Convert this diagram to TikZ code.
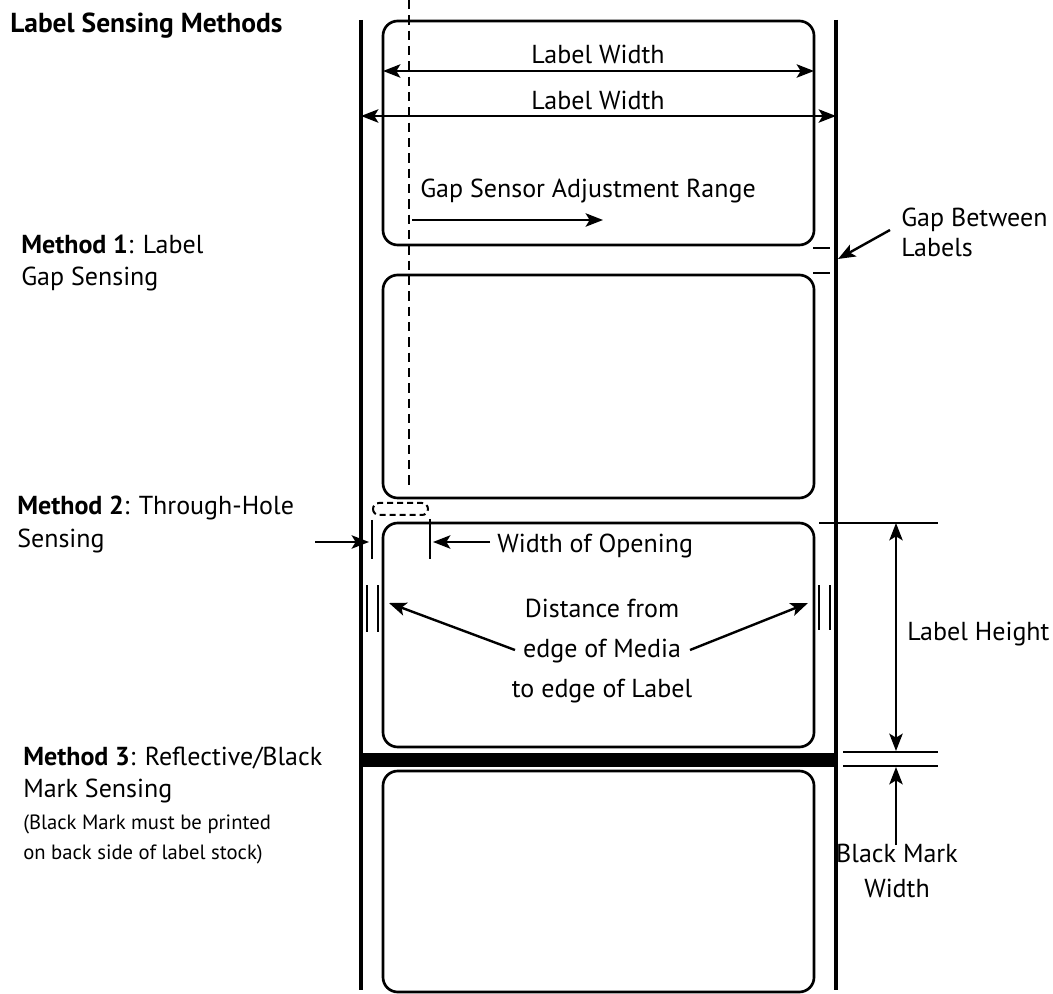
\documentclass[tikz,border=0pt]{standalone}
\usepackage{fontspec}
\setmainfont{PT Sans}
\usetikzlibrary{arrows.meta}
\tikzset{
  media/.style={line width=2.3pt},
  lbl/.style={line width=2pt, rounded corners=11pt},
  dimline/.style={line width=1.9pt},
  tip/.tip={Stealth[length=13pt,width=10pt,inset=3pt]},
  arr/.style={line width=1.8pt,-tip},
  darr/.style={line width=1.8pt,tip-tip},
  txt/.style={inner sep=0pt, font=\fontsize{19.5}{23}\selectfont, anchor=base west},
  ctxt/.style={txt, anchor=base},
  small/.style={inner sep=0pt, font=\fontsize{15.5}{19}\selectfont, anchor=base west},
}
\begin{document}
\begin{tikzpicture}[x=0.75pt,y=-0.75pt]
\useasboundingbox (0,0) rectangle (1053,994);
% media edges
\coordinate (mlt) at (361,20); \coordinate (mlb) at (361,990);
\coordinate (mrt) at (836,20); \coordinate (mrb) at (836,990);
\draw[media] (mlt) -- (mlb);
\draw[media] (mrt) -- (mrb);
% labels
\draw[lbl] (383,21) rectangle (814,245);
\draw[lbl] (383,275) rectangle (814,498);
\draw[lbl] (383,523) rectangle (814,747);
\draw[lbl] (383,771) rectangle (814,992);
% black mark
\fill (361,753) rectangle (836,767);
% dashed sensor line
\coordinate (ds1) at (409,0); \coordinate (ds2) at (409,488);
\draw[line width=1.9pt, dash pattern=on 7pt off 4.5pt] (ds1) -- (ds2);
% label width
\coordinate (lw1a) at (383,71); \coordinate (lw1b) at (814,71);
\coordinate (lw2a) at (361,116); \coordinate (lw2b) at (836,116);
\draw[darr] (lw1a) -- (lw1b);
\draw[darr] (lw2a) -- (lw2b);
\node[ctxt] (lwt1) at (598,64) {Label Width};
\node[ctxt] (lwt2) at (598,110) {Label Width};
% gap sensor adjustment range
\node[txt] (gsar) at (420,198) {Gap Sensor Adjustment Range};
\coordinate (gs1) at (412,220); \coordinate (gs2) at (603,220);
\draw[arr] (gs1) -- (gs2);
% gap between labels
\draw[dimline] (813,248) -- (830,248);
\draw[dimline] (813,273) -- (830,273);
\node[txt] (gbl1) at (901,227) {Gap Between};
\node[txt] (gbl2) at (901,257) {Labels};
\coordinate (gb1) at (890,230); \coordinate (gb2) at (838,259);
\draw[arr] (gb1) -- (gb2);
% through hole
\draw[line width=1.5pt, dash pattern=on 4.5pt off 3pt, rounded corners=4.5pt] (373,503) rectangle (428,515);
\draw[dimline] (372,520) -- (372,559);
\draw[dimline] (430,519) -- (430,559);
\coordinate (th1) at (315,542); \coordinate (th2) at (369,542);
\coordinate (th3) at (490,542); \coordinate (th4) at (433,542);
\draw[arr] (th1) -- (th2);
\draw[arr] (th3) -- (th4);
\node[txt] (wo) at (497,552) {Width of Opening};
% distance from edge of media
\draw[dimline] (367,585) -- (367,632);
\draw[dimline] (378,585) -- (378,632);
\draw[dimline] (819,585) -- (819,630);
\draw[dimline] (830,585) -- (830,630);
\node[ctxt] (d1) at (602,617) {Distance from};
\node[ctxt] (d2) at (602,657) {edge of Media};
\node[ctxt] (d3) at (602,697) {to edge of Label};
\coordinate (da1) at (515,650); \coordinate (da2) at (389,603);
\coordinate (db1) at (690,650); \coordinate (db2) at (808,603);
\draw[arr] (da1) -- (da2);
\draw[arr] (db1) -- (db2);
% label height
\draw[dimline] (819,523) -- (938,523);
\draw[dimline] (843,752) -- (938,752);
\draw[dimline] (843,766) -- (938,766);
\coordinate (lh1) at (896,523); \coordinate (lh2) at (896,751);
\draw[darr] (lh1) -- (lh2);
\node[txt] (lht) at (907,640) {Label Height};
% black mark width
\coordinate (bm1) at (896,845); \coordinate (bm2) at (896,767);
\draw[arr] (bm1) -- (bm2);
\node[ctxt] (bmw1) at (897,862) {Black Mark};
\node[ctxt] (bmw2) at (897,897) {Width};
% left texts
\node[txt, font=\fontsize{20.6}{25}\selectfont\bfseries] (title) at (10,33) {Label Sensing Methods};
\node[txt] (m1a) at (21,254) {\textbf{Method 1}: Label};
\node[txt] (m1b) at (21,286) {Gap Sensing};
\node[txt] (m2a) at (17,515) {\textbf{Method 2}: Through-Hole};
\node[txt] (m2b) at (17,547) {Sensing};
\node[txt] (m3a) at (23,765) {\textbf{Method 3}: Reflective/Black};
\node[txt] (m3b) at (23,797) {Mark Sensing};
\node[small] (m3c) at (23,829) {(Black Mark must be printed};
\node[small] (m3d) at (23,859) {on back side of label stock)};
\end{tikzpicture}
\end{document}
